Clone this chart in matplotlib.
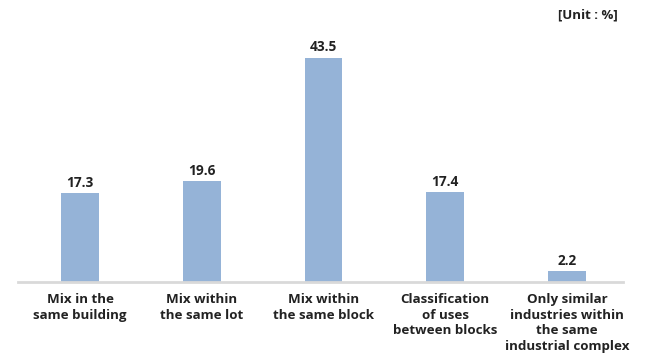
import matplotlib.pyplot as plt
import numpy as np

# Survey shares by type of land-use mix
categories = ['Mix in the\nsame building', 'Mix within\nthe same lot', 'Mix within\nthe same block',
              'Classification\nof uses\nbetween blocks',
              'Only similar\nindustries within\nthe same\nindustrial complex']
values = [17.3, 19.6, 43.5, 17.4, 2.2]

BAR_COLOR = '#95B3D7'
TEXT_COLOR = '#222222'

plt.rcParams['font.family'] = ['Open Sans', 'DejaVu Sans']

fig = plt.figure(figsize=(6.56, 3.58), dpi=100)
ax = fig.add_axes([18 / 656, 76 / 358, 605 / 656, 258 / 358])

x = np.arange(len(values))
bars = ax.bar(x, values, width=0.31, color=BAR_COLOR, zorder=2)

for xi, v in zip(x, values):
    ax.text(xi, v + 0.6, f'{v:.1f}', ha='center', va='bottom',
            fontsize=9.8, fontweight='bold', color=TEXT_COLOR)

ax.set_xlim(-0.51, 4.46)
ax.set_ylim(0, 50)
ax.set_xticks(x)
ax.set_xticklabels(categories, fontsize=9.6, fontweight='bold', color=TEXT_COLOR,
                   linespacing=1.25)
ax.tick_params(axis='x', length=0, pad=8)
ax.set_yticks([])

for side in ['top', 'right', 'left']:
    ax.spines[side].set_visible(False)
ax.spines['bottom'].set_color('#D9D9D9')
ax.spines['bottom'].set_linewidth(2)

fig.text(618 / 656, 1 - 15 / 358, '[Unit : %]', ha='right', va='center',
         fontsize=9.5, fontweight='bold', color=TEXT_COLOR)

fig.savefig('out.png', dpi=100)
